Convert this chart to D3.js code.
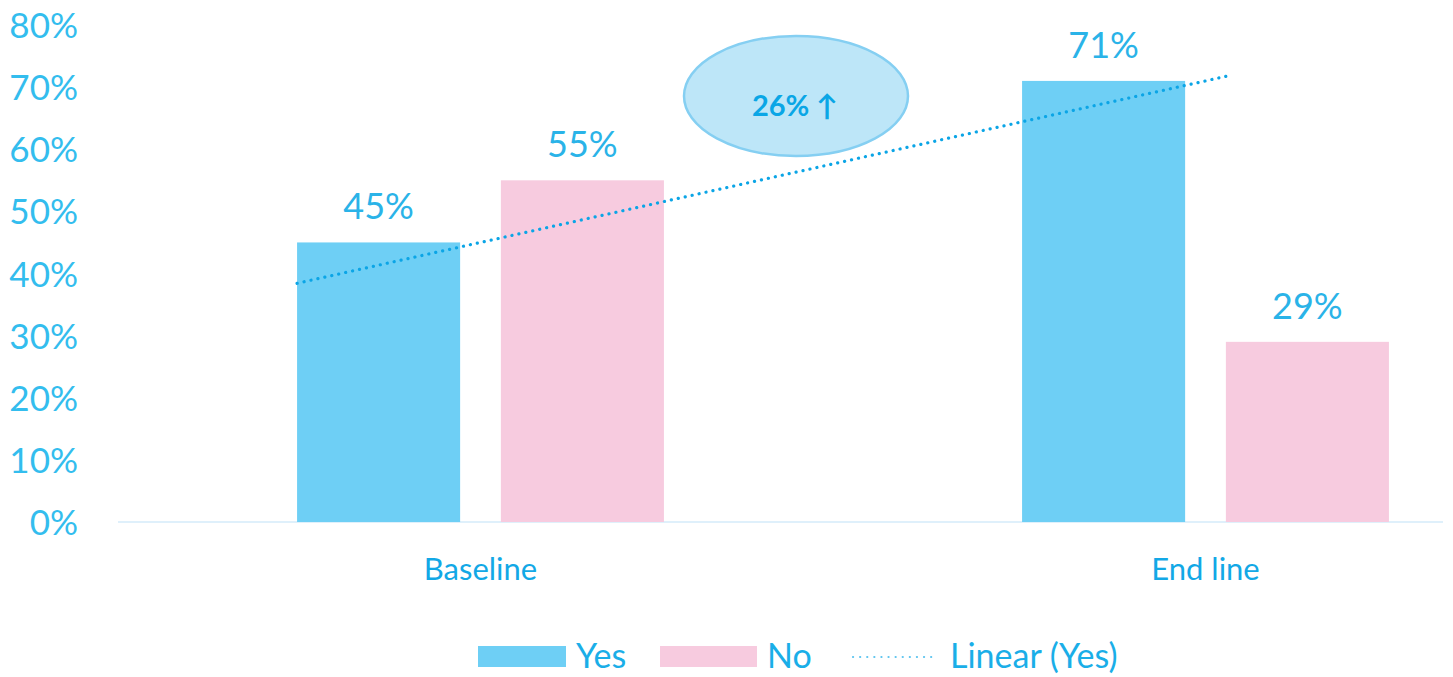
<!DOCTYPE html>
<html><head><meta charset="utf-8">
<script src="https://cdn.jsdelivr.net/npm/d3@7"></script>
<style>html,body{margin:0;padding:0;background:#fff;} svg{display:block;}</style>
</head><body>
<svg id="chart" width="1453" height="677"></svg>
<script>
const categories = ["Baseline", "End line"];
const seriesNames = ["Yes", "No"];
const yesValues = [0.45, 0.71];
const noValues = [0.55, 0.29];
const yTicks = [0, 0.1, 0.2, 0.3, 0.4, 0.5, 0.6, 0.7, 0.8];
const calloutText = "26% ↑";
const trendLabel = "Linear (Yes)";

const svg = d3.select("#chart");
const FONT = "Lato, 'Open Sans', sans-serif";
const colors = {Yes: "#6ecff5", No: "#f7cbdf"};

const y = d3.scaleLinear().domain([0, 0.8]).range([522, 25]);
const x0 = d3.scaleBand().domain(categories).range([118, 118 + 2 * 725])
  .paddingInner(0.494).paddingOuter(0.247);
const x1 = d3.scaleBand().domain(seriesNames).range([0, x0.bandwidth()]).paddingInner(0.2);

// y axis labels
const yAxis = d3.axisLeft(y).tickValues(yTicks).tickFormat(d3.format(".0%")).tickSize(0).tickPadding(0);
const gy = svg.append("g").attr("transform", "translate(78,0)").call(yAxis);
gy.select(".domain").remove();
gy.selectAll("text").attr("font-family", FONT).attr("font-size", 35).attr("fill", "#33bdee").attr("dy", "0.36em");

// baseline axis line
svg.append("line").attr("x1", 118).attr("x2", 1443).attr("y1", y(0)).attr("y2", y(0))
  .attr("stroke", "#dff0fb").attr("stroke-width", 2);

// bars
const rows = categories.map((c, i) => ({cat: c, Yes: yesValues[i], No: noValues[i]}));
const groups = svg.append("g").selectAll("g").data(rows).join("g")
  .attr("transform", d => `translate(${x0(d.cat)},0)`);
groups.selectAll("rect").data(d => seriesNames.map(k => ({k, v: d[k]}))).join("rect")
  .attr("x", d => x1(d.k)).attr("width", x1.bandwidth())
  .attr("y", d => y(d.v)).attr("height", d => y(0) - y(d.v))
  .attr("fill", d => colors[d.k]);
groups.selectAll("text").data(d => seriesNames.map(k => ({k, v: d[k]}))).join("text")
  .attr("x", d => x1(d.k) + x1.bandwidth() / 2).attr("y", d => y(d.v) - 23)
  .attr("text-anchor", "middle").attr("font-family", FONT).attr("font-size", 36)
  .attr("fill", "#2ab3e8").text(d => d3.format(".0%")(d.v));

// category labels
const xAxis = d3.axisBottom(x0).tickSize(0).tickPadding(0);
const gx = svg.append("g").attr("transform", "translate(0,580)").call(xAxis);
gx.select(".domain").remove();
gx.selectAll("text").attr("font-family", FONT).attr("font-size", 31).attr("fill", "#12a8e6").attr("dy", 0);

// linear trendline for Yes (least squares over two points)
const cx = categories.map(c => x0(c) + x0.bandwidth() / 2);
const slope = (yesValues[1] - yesValues[0]);
const tStart = (x0(categories[0]) - cx[0]) / x0.step();
const tEnd = 1.036;
const trendPts = [tStart, tEnd].map(t => [cx[0] + t * x0.step(), y(yesValues[0] + slope * t)]);
svg.append("path").attr("d", d3.line()(trendPts)).attr("fill", "none")
  .attr("stroke", "#0ba5e6").attr("stroke-width", 3.2).attr("stroke-linecap", "round")
  .attr("stroke-dasharray", "0.1 7");

// callout ellipse
svg.append("ellipse").attr("cx", 796).attr("cy", 96).attr("rx", 112).attr("ry", 60)
  .attr("fill", "#bde6f8").attr("stroke", "#85cff2").attr("stroke-width", 2.5);
svg.append("text").attr("x", 795).attr("y", 116).attr("text-anchor", "middle")
  .attr("font-family", FONT).attr("font-weight", "bold").attr("font-size", 29)
  .attr("fill", "#0aa6e6").text(calloutText);

// legend
const lg = svg.append("g").attr("font-family", FONT).attr("font-size", 34).attr("fill", "#1aaee8");
lg.append("rect").attr("x", 478).attr("y", 646).attr("width", 88).attr("height", 21).attr("fill", colors.Yes);
lg.append("text").attr("x", 576).attr("y", 668).text(seriesNames[0]);
lg.append("rect").attr("x", 660).attr("y", 646).attr("width", 97).attr("height", 21).attr("fill", colors.No);
lg.append("text").attr("x", 767).attr("y", 668).text(seriesNames[1]);
lg.append("line").attr("x1", 853).attr("x2", 937).attr("y1", 657).attr("y2", 657)
  .attr("stroke", "#5cc4ef").attr("stroke-width", 2.2).attr("stroke-linecap", "round")
  .attr("stroke-dasharray", "0.1 7");
lg.append("text").attr("x", 950).attr("y", 668).text(trendLabel);
</script>
</body></html>
